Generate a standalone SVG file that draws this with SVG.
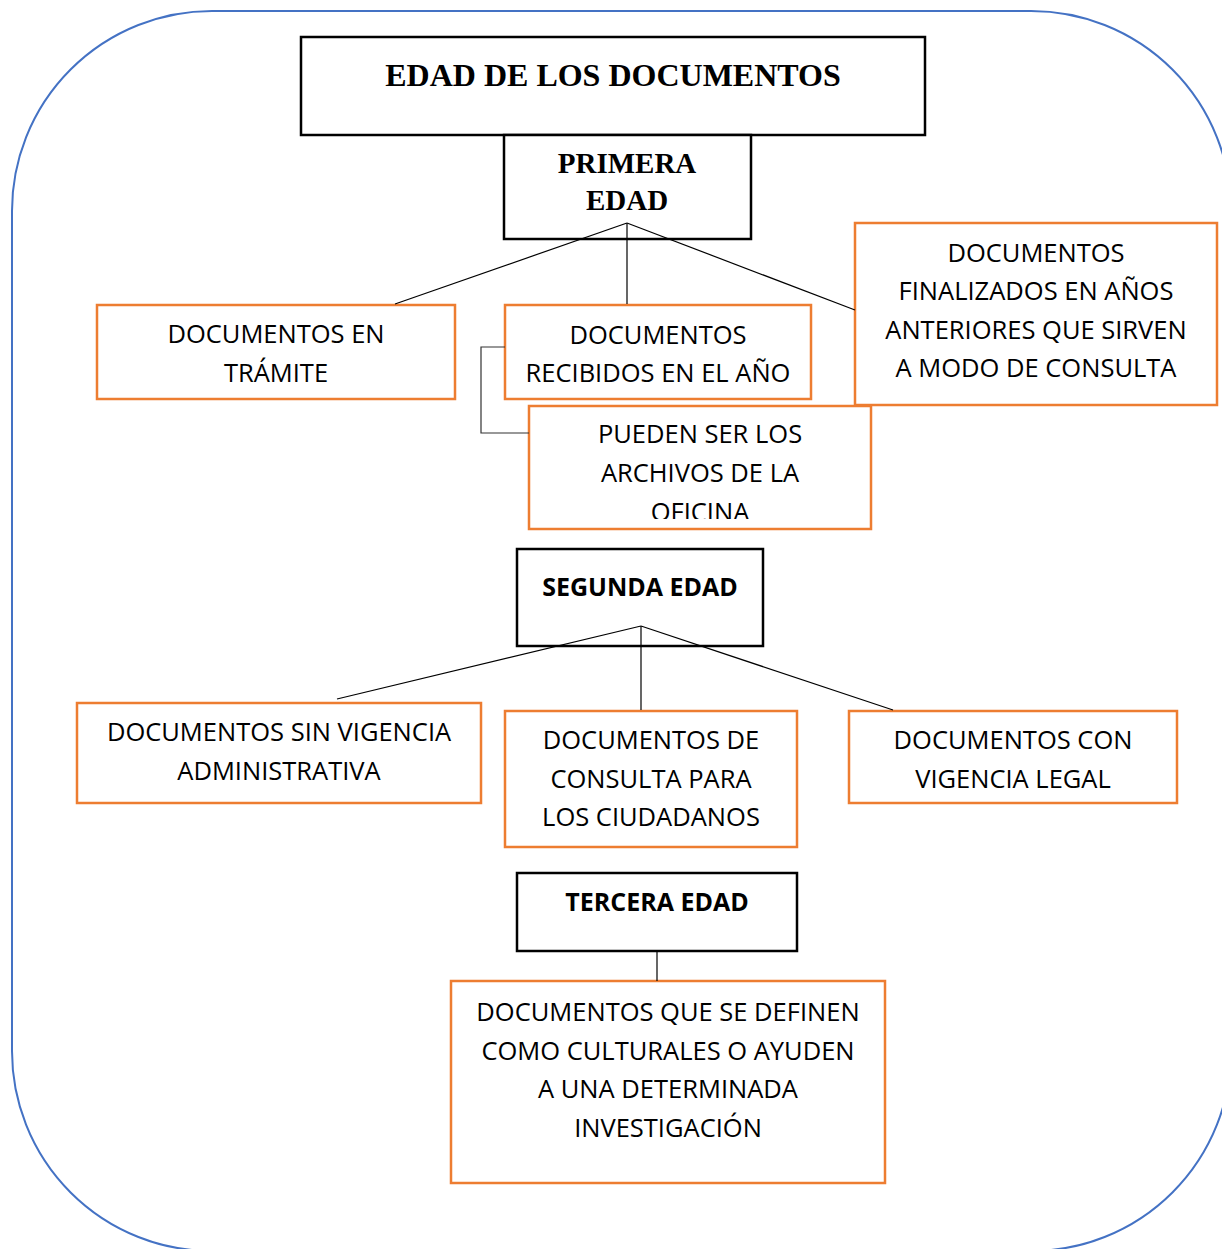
<svg xmlns="http://www.w3.org/2000/svg" width="1222" height="1249" viewBox="0 0 1222 1249">
<style>
.bg{fill:#fff}
.frame{fill:none;stroke:#4472C4;stroke-width:2}
.bk{fill:#fff;stroke:#000;stroke-width:2.5}
.or{fill:#fff;stroke:#ED7D31;stroke-width:2.5}
.conn line,.conn polyline{stroke:#000;stroke-width:1.2;fill:none}
.ser{font-family:"Liberation Serif","Times New Roman",serif;font-weight:bold;fill:#000;text-anchor:middle}
.sans{font-family:"Open Sans","Noto Sans",sans-serif;font-size:25.5px;fill:#000;text-anchor:middle}
.sb{font-family:"Open Sans","Noto Sans",sans-serif;font-size:25px;font-weight:bold;fill:#000;text-anchor:middle}
</style>
<defs>
<clipPath id="clipOf"><rect x="529" y="406" width="342" height="113"/></clipPath>
</defs>
<rect class="bg" x="0" y="0" width="1222" height="1249"/>
<rect class="frame" x="12" y="11" width="1219" height="1240" rx="200" ry="200"/>

<g id="title">
<rect class="bk" x="301" y="37" width="624" height="98"/>
<text class="ser" x="613" y="86" font-size="32">EDAD DE LOS DOCUMENTOS</text>
</g>
<g id="primera">
<rect class="bk" x="504" y="135" width="247" height="104"/>
<text class="ser" x="627" y="173" font-size="29">PRIMERA</text>
<text class="ser" x="627" y="210" font-size="29">EDAD</text>
</g>
<g id="segunda">
<rect class="bk" x="517" y="549" width="246" height="97"/>
<text class="sb" x="640" y="596">SEGUNDA EDAD</text>
</g>
<g id="tercera">
<rect class="bk" x="517" y="873" width="280" height="78"/>
<text class="sb" x="657" y="911">TERCERA EDAD</text>
</g>

<g id="tramite">
<rect class="or" x="97" y="305" width="358" height="94"/>
<text class="sans" x="276" y="343">DOCUMENTOS EN</text>
<text class="sans" x="276" y="382">TRÁMITE</text>
</g>
<g id="recibidos">
<rect class="or" x="505" y="305" width="306" height="94"/>
<text class="sans" x="658" y="344">DOCUMENTOS</text>
<text class="sans" x="658" y="382">RECIBIDOS EN EL AÑO</text>
</g>
<g id="finalizados">
<rect class="or" x="855" y="223" width="362" height="182"/>
<text class="sans" x="1036" y="262">DOCUMENTOS</text>
<text class="sans" x="1036" y="300">FINALIZADOS EN AÑOS</text>
<text class="sans" x="1036" y="339">ANTERIORES QUE SIRVEN</text>
<text class="sans" x="1036" y="377">A MODO DE CONSULTA</text>
</g>
<g id="archivos">
<rect class="or" x="529" y="406" width="342" height="123"/>
<text class="sans" x="700" y="443">PUEDEN SER LOS</text>
<text class="sans" x="700" y="482">ARCHIVOS DE LA</text>
<text class="sans" x="700" y="521" clip-path="url(#clipOf)">OFICINA</text>
</g>
<g id="sinvigencia">
<rect class="or" x="77" y="703" width="404" height="100"/>
<text class="sans" x="279" y="741">DOCUMENTOS SIN VIGENCIA</text>
<text class="sans" x="279" y="780">ADMINISTRATIVA</text>
</g>
<g id="consulta">
<rect class="or" x="505" y="711" width="292" height="136"/>
<text class="sans" x="651" y="749">DOCUMENTOS DE</text>
<text class="sans" x="651" y="788">CONSULTA PARA</text>
<text class="sans" x="651" y="826">LOS CIUDADANOS</text>
</g>
<g id="convigencia">
<rect class="or" x="849" y="711" width="328" height="92"/>
<text class="sans" x="1013" y="749">DOCUMENTOS CON</text>
<text class="sans" x="1013" y="788">VIGENCIA LEGAL</text>
</g>
<g id="culturales">
<rect class="or" x="451" y="981" width="434" height="202"/>
<text class="sans" x="668" y="1021">DOCUMENTOS QUE SE DEFINEN</text>
<text class="sans" x="668" y="1060">COMO CULTURALES O AYUDEN</text>
<text class="sans" x="668" y="1098">A UNA DETERMINADA</text>
<text class="sans" x="668" y="1137">INVESTIGACIÓN</text>
</g>

<g class="conn" id="connectors">
<line x1="627" y1="223" x2="395" y2="304"/>
<line x1="627" y1="223" x2="627" y2="304"/>
<line x1="627" y1="223" x2="855" y2="310"/>
<polyline points="505,347 481,347 481,433 529,433" style="stroke:#333"/>
<line x1="641" y1="626" x2="337" y2="699"/>
<line x1="641" y1="626" x2="641" y2="710"/>
<line x1="641" y1="626" x2="893" y2="710"/>
<line x1="657" y1="951" x2="657" y2="981"/>
</g>
</svg>
